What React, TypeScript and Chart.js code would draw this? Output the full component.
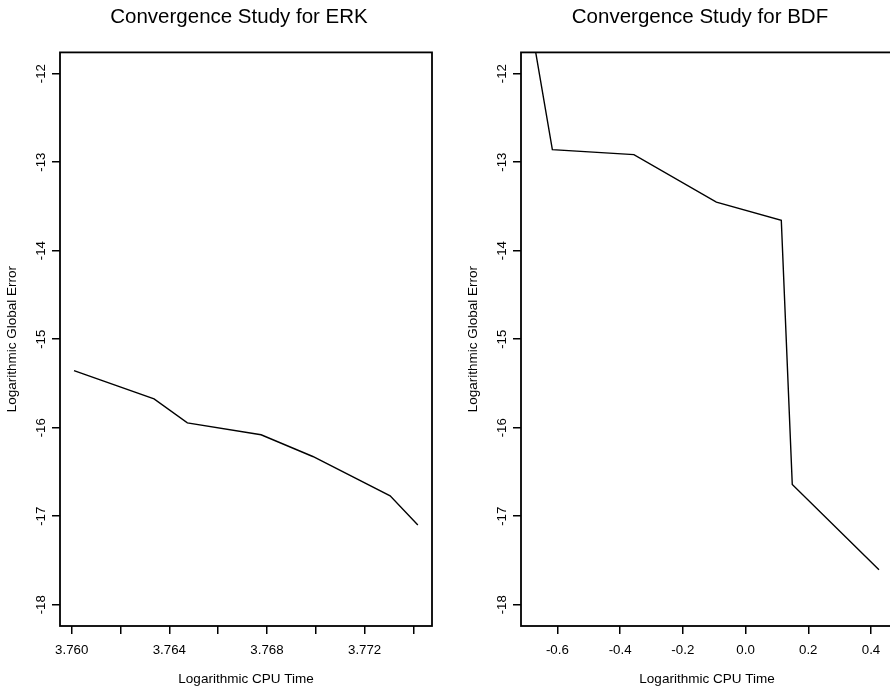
import React, { useEffect, useRef } from 'react';
import { Chart, registerables } from 'chart.js';

Chart.register(...registerables);

const FONT = '"Liberation Sans", Arial, Helvetica, sans-serif';

// ERK panel data
const erkCpuTime = [3.760094, 3.763373, 3.764738, 3.767758, 3.769877, 3.773045, 3.77418];
const erkError = [-15.354, -15.674, -15.945, -16.08, -16.325, -16.769, -17.1];

// BDF panel data
const bdfCpuTime = [-0.672, -0.616, -0.356, -0.093, 0.114, 0.149, 0.4255];
const bdfError = [-11.7, -12.858, -12.915, -13.452, -13.656, -16.641, -17.605];

// Ticks and labels
const erkXTicks = [3.76, 3.762, 3.764, 3.766, 3.768, 3.77, 3.772, 3.774];
const erkXTickLabels = ['3.760', '', '3.764', '', '3.768', '', '3.772', ''];
const bdfXTicks = [-0.6, -0.4, -0.2, 0, 0.2, 0.4];
const bdfXTickLabels = ['-0.6', '-0.4', '-0.2', '0.0', '0.2', '0.4'];
const yTicks = [-18, -17, -16, -15, -14, -13, -12];
const yTickLabels = ['-18', '-17', '-16', '-15', '-14', '-13', '-12'];

// Axis limits
const erkXRange = [3.75952, 3.77476];
const bdfXRange = [-0.716, 0.4702];
const yRange = [-18.24, -11.76];

const xTitle = 'Logarithmic CPU Time';
const yTitle = 'Logarithmic Global Error';

const boxPlugin = {
  id: 'plotBox',
  afterDraw(chart: any) {
    const { ctx, chartArea: a } = chart;
    ctx.save();
    ctx.strokeStyle = '#000';
    ctx.lineWidth = 1.8;
    ctx.strokeRect(a.left, a.top, a.right - a.left, a.bottom - a.top);
    ctx.restore();
  },
};

type PanelProps = {
  title: string;
  xs: number[];
  ys: number[];
  xRange: number[];
  xTicks: number[];
  xLabels: string[];
  left: number;
};

function labelFor(ticks: number[], labels: string[], v: number) {
  for (let i = 0; i < ticks.length; i++) {
    if (Math.abs(ticks[i] - v) < 1e-9) return labels[i];
  }
  return '';
}

function Panel({ title, xs, ys, xRange, xTicks, xLabels, left }: PanelProps) {
  const ref = useRef<HTMLCanvasElement | null>(null);
  useEffect(() => {
    if (!ref.current) return;
    const chart = new Chart(ref.current, {
      type: 'line',
      data: {
        datasets: [
          {
            data: xs.map((x, i) => ({ x, y: ys[i] })),
            borderColor: '#000',
            borderWidth: 1.4,
            pointRadius: 0,
            fill: false,
            tension: 0,
          },
        ],
      },
      options: {
        animation: false,
        responsive: false,
        devicePixelRatio: 1,
        layout: { padding: { left: 0, right: 0, top: 0, bottom: 0 } },
        plugins: {
          legend: { display: false },
          tooltip: { enabled: false },
          title: {
            display: true,
            text: title,
            color: '#000',
            font: { family: FONT, size: 20.5, weight: 'normal' },
            padding: { top: 5, bottom: 22.8 },
          },
        },
        scales: {
          x: {
            type: 'linear',
            min: xRange[0],
            max: xRange[1],
            afterBuildTicks: (s: any) => {
              s.ticks = xTicks.map((v) => ({ value: v }));
            },
            afterFit: (s: any) => {
              s.height = 62;
            },
            ticks: {
              autoSkip: false,
              maxRotation: 0,
              minRotation: 0,
              padding: 8,
              color: '#000',
              font: { family: FONT, size: 13.3 },
              callback: (v: any) => labelFor(xTicks, xLabels, Number(v)),
            },
            grid: {
              drawOnChartArea: false,
              drawTicks: true,
              tickLength: 8,
              color: '#000',
              lineWidth: 1.5,
            },
            border: { display: false },
            title: {
              display: true,
              text: xTitle,
              color: '#000',
              font: { family: FONT, size: 13.5 },
              padding: { top: 0, bottom: 1 },
            },
          },
          y: {
            type: 'linear',
            position: 'left',
            min: yRange[0],
            max: yRange[1],
            afterBuildTicks: (s: any) => {
              s.ticks = yTicks.map((v) => ({ value: v }));
            },
            afterFit: (s: any) => {
              s.width = 60;
            },
            ticks: {
              autoSkip: false,
              minRotation: 90,
              maxRotation: 90,
              crossAlign: 'center',
              padding: 1,
              color: '#000',
              font: { family: FONT, size: 13.3 },
              callback: (v: any) => labelFor(yTicks, yTickLabels, Number(v)),
            },
            grid: {
              drawOnChartArea: false,
              drawTicks: true,
              tickLength: 8,
              color: '#000',
              lineWidth: 1.5,
            },
            border: { display: false },
            title: {
              display: true,
              text: yTitle,
              color: '#000',
              font: { family: FONT, size: 13.5 },
              padding: { top: 4, bottom: 0 },
            },
          },
          yRightMargin: {
            type: 'linear',
            position: 'right',
            display: true,
            min: yRange[0],
            max: yRange[1],
            afterFit: (s: any) => {
              s.width = 46;
            },
            ticks: { display: false },
            grid: { display: false },
            border: { display: false },
            title: { display: false },
          },
        },
      } as any,
      plugins: [boxPlugin],
    });
    return () => chart.destroy();
  }, []);
  return (
    <canvas
      ref={ref}
      width={478}
      height={688}
      style={{ position: 'absolute', left, top: 0, width: 478, height: 688 }}
    />
  );
}

export default function App() {
  return (
    <div
      style={{
        position: 'fixed',
        left: 0,
        top: 0,
        width: 890,
        height: 688,
        overflow: 'hidden',
        background: '#fff',
      }}
    >
      <Panel
        title="Convergence Study for ERK"
        xs={erkCpuTime}
        ys={erkError}
        xRange={erkXRange}
        xTicks={erkXTicks}
        xLabels={erkXTickLabels}
        left={0}
      />
      <Panel
        title="Convergence Study for BDF"
        xs={bdfCpuTime}
        ys={bdfError}
        xRange={bdfXRange}
        xTicks={bdfXTicks}
        xLabels={bdfXTickLabels}
        left={461}
      />
    </div>
  );
}
